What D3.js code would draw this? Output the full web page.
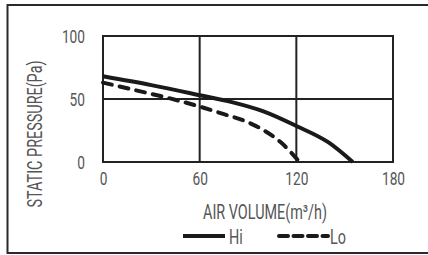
<!DOCTYPE html>
<html><head><meta charset="utf-8">
<script src="https://cdn.jsdelivr.net/npm/d3@7/dist/d3.min.js"></script>
<style>
html,body{margin:0;padding:0;background:#fff;}
svg{display:block;}
text{font-family:Roboto,"DejaVu Sans Condensed",sans-serif;fill:#555;}
</style></head>
<body>
<script>
const xTicks = [0, 60, 120, 180];
const yTicks = [0, 50, 100];
const hiData = [[0,68],[30,61],[60,53],[80,47.5],[100,40],[120,28.6],[140,15.5],[155,0]];
const loData = [[0,63],[20,57],[40,51],[60,44],[75,38],[90,31.5],[100,25],[110,16],[122,0]];
const seriesNames = ["Hi", "Lo"];
const xTitle = "AIR VOLUME(m³/h)";
const yTitle = "STATIC PRESSURE(Pa)";

const W = 428, H = 255;
const FONT = 'Roboto,"DejaVu Sans Condensed",sans-serif';
const svg = d3.select("body").append("svg").attr("width", W).attr("height", H);

svg.append("rect").attr("x", 7.5).attr("y", 5).attr("width", 425).attr("height", 248)
  .attr("fill", "none").attr("stroke", "#2a2a2a").attr("stroke-width", 2);

const x = d3.scaleLinear().domain([0, 180]).range([103, 393]);
const y = d3.scaleLinear().domain([0, 100]).range([162, 36]);

const g = svg.append("g");
g.selectAll("line.v").data(xTicks).join("line")
  .attr("x1", d => x(d)).attr("x2", d => x(d)).attr("y1", y(0)).attr("y2", y(100))
  .attr("stroke", "#222").attr("stroke-width", 2);
g.selectAll("line.h").data(yTicks).join("line")
  .attr("x1", x(0) - 1).attr("x2", x(180) + 1).attr("y1", d => y(d)).attr("y2", d => y(d))
  .attr("stroke", "#222").attr("stroke-width", 2);

const xAxis = svg.append("g").attr("transform", `translate(0,${y(0)})`)
  .call(d3.axisBottom(x).tickValues(xTicks).tickSize(0).tickPadding(10));
xAxis.select(".domain").remove();
xAxis.selectAll("text").attr("font-size", 19).attr("dy", "0.71em")
  .style("font-family", FONT).attr("fill", "#666");

const yAxis = svg.append("g").attr("transform", `translate(${x(0)},0)`)
  .call(d3.axisLeft(y).tickValues(yTicks).tickSize(0).tickPadding(18));
yAxis.select(".domain").remove();
yAxis.selectAll("text").attr("font-size", 19)
  .style("font-family", FONT).attr("fill", "#666");

const line = d3.line().x(d => x(d[0])).y(d => y(d[1])).curve(d3.curveMonotoneX);
svg.append("path").datum(hiData).attr("d", line)
  .attr("fill", "none").attr("stroke", "#1a1a1a").attr("stroke-width", 4);
svg.append("path").datum(loData).attr("d", line)
  .attr("fill", "none").attr("stroke", "#1a1a1a").attr("stroke-width", 4)
  .attr("stroke-dasharray", "9,8").attr("stroke-linecap", "round");

svg.append("text").attr("x", 265).attr("y", 219).attr("text-anchor", "middle")
  .attr("font-size", 20).text(xTitle);
svg.append("text").attr("transform", "translate(42,134) rotate(-90)").attr("text-anchor", "middle")
  .attr("font-size", 20).text(yTitle);

svg.append("line").attr("x1", 183).attr("x2", 225).attr("y1", 236).attr("y2", 236)
  .attr("stroke", "#1a1a1a").attr("stroke-width", 4);
svg.append("text").attr("x", 229).attr("y", 244).attr("font-size", 20).text(seriesNames[0]);
svg.append("line").attr("x1", 279).attr("x2", 328).attr("y1", 236).attr("y2", 236)
  .attr("stroke", "#1a1a1a").attr("stroke-width", 4)
  .attr("stroke-dasharray", "9,5.5").attr("stroke-linecap", "round");
svg.append("text").attr("x", 330).attr("y", 244).attr("font-size", 20).text(seriesNames[1]);

// condense all text horizontally (reference uses a condensed face)
svg.selectAll("text").each(function() {
  const w = this.getComputedTextLength();
  d3.select(this).attr("textLength", w * 0.72).attr("lengthAdjust", "spacingAndGlyphs");
});
</script>
</body></html>
